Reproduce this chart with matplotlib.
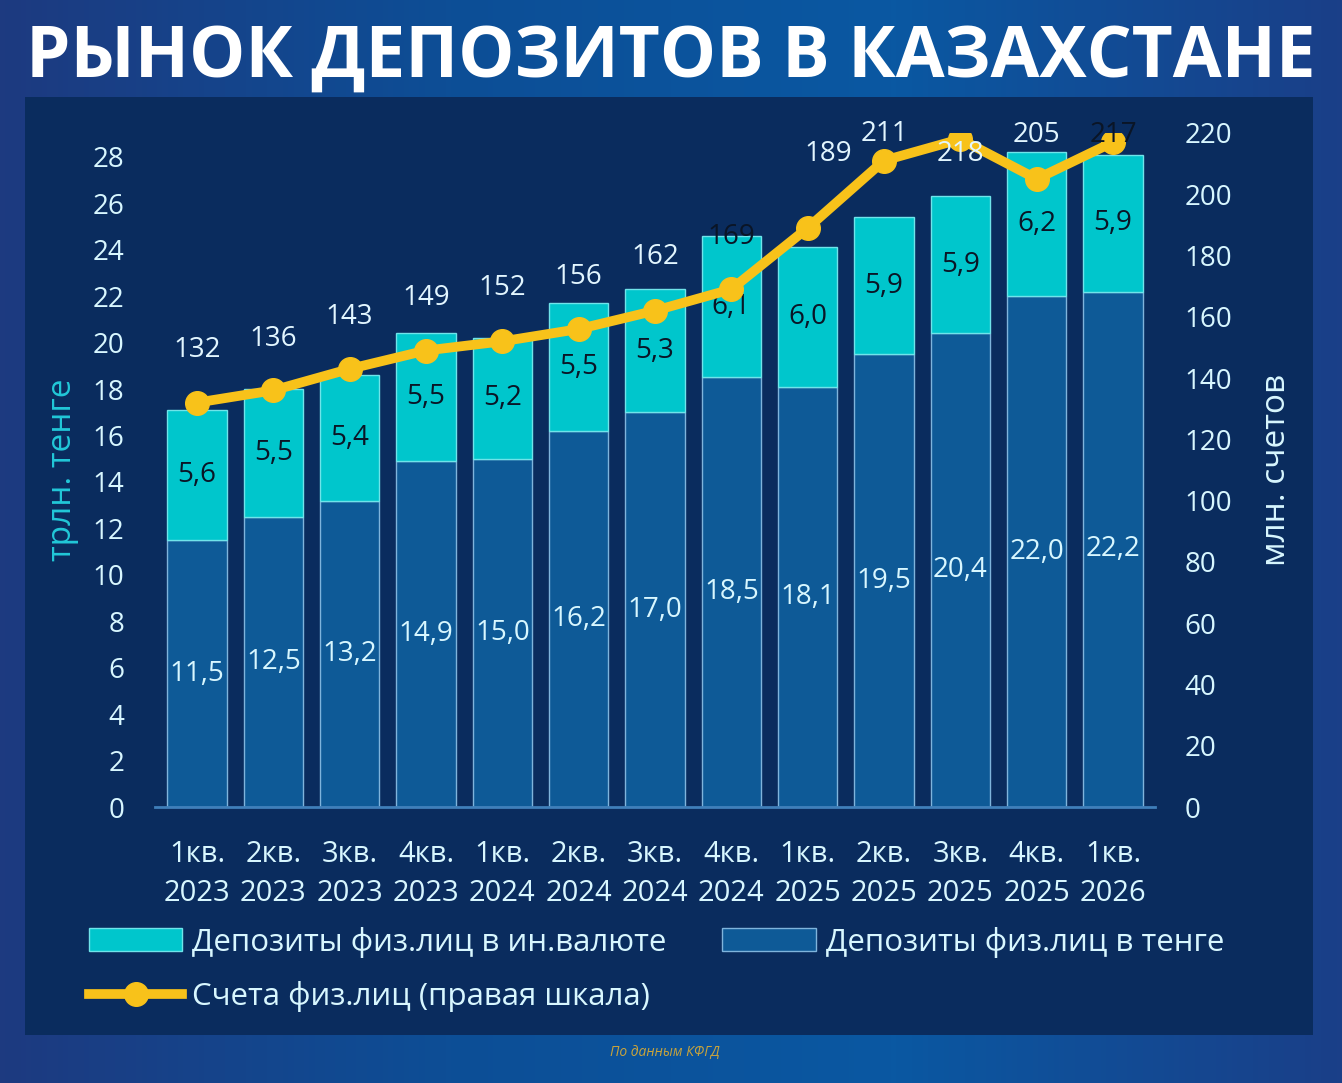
import numpy as np
import matplotlib.pyplot as plt
from matplotlib.patches import Rectangle
from matplotlib.colors import LinearSegmentedColormap

# Данные
kvartaly = ["1кв.\n2023", "2кв.\n2023", "3кв.\n2023", "4кв.\n2023",
            "1кв.\n2024", "2кв.\n2024", "3кв.\n2024", "4кв.\n2024",
            "1кв.\n2025", "2кв.\n2025", "3кв.\n2025", "4кв.\n2025",
            "1кв.\n2026"]
dep_tenge = [11.5, 12.5, 13.2, 14.9, 15.0, 16.2, 17.0, 18.5, 18.1, 19.5, 20.4, 22.0, 22.2]
dep_valuta = [5.6, 5.5, 5.4, 5.5, 5.2, 5.5, 5.3, 6.1, 6.0, 5.9, 5.9, 6.2, 5.9]
scheta = [132, 136, 143, 149, 152, 156, 162, 169, 189, 211, 218, 205, 217]

# Смещения подписей линии (пиксели) и цвет подписей
sdvig = [(0, 53), (0, 51), (0, 52), (0, 53), (0, 53), (0, 52), (0, 54), (0, 52),
         (21, 74), (0, 27), (0, -15), (0, 44), (0, 7)]
cvet_podp = ['#e2f6ff'] * 7 + ['#0a1526', '#e2f6ff', '#e2f6ff', '#e2f6ff', '#e2f6ff', '#0a1526']

C_TENGE = '#0e5a97'
C_VAL = '#00c6cc'
C_LINE = '#f8c21a'
C_TXT = '#d8f7ff'

plt.rcParams['font.family'] = ['Open Sans', 'DejaVu Sans']

fig = plt.figure(figsize=(13.42, 10.83), dpi=100)

# Фон
bg = fig.add_axes([0, 0, 1, 1], zorder=-10)
bg.axis('off')
grad = np.linspace(0, 1, 256).reshape(1, -1)
cmap_bg = LinearSegmentedColormap.from_list('bg', ['#1d3a80', '#0d4e96', '#0a58a2', '#1a3f88'])
bg.imshow(grad, aspect='auto', cmap=cmap_bg, extent=[0, 1, 0, 1])
bg.set_xlim(0, 1)
bg.set_ylim(0, 1)
bg.add_patch(Rectangle((25 / 1342, 1 - 1035 / 1083), (1313 - 25) / 1342, (1035 - 97) / 1083,
                       facecolor='#0a2c5e', edgecolor='none'))

fig.text(0.5, 1 - 58 / 1083, 'РЫНОК ДЕПОЗИТОВ В КАЗАХСТАНЕ', color='white',
         fontsize=51, fontweight='bold', ha='center', va='center')
fig.text(665 / 1342, 1 - 1053 / 1083, 'По данным КФГД', color='#c9a43c',
         fontsize=10, style='italic', ha='center', va='center')

ax = fig.add_axes([155 / 1342, 1 - 807 / 1083, 1000 / 1342, 674 / 1083])
ax.patch.set_alpha(0)
x = np.arange(len(kvartaly))
w = 0.78

b1 = ax.bar(x, dep_tenge, w, color=C_TENGE, edgecolor='#7fb4dc', linewidth=1,
            label='Депозиты физ.лиц в тенге')
b2 = ax.bar(x, dep_valuta, w, bottom=dep_tenge, color=C_VAL, edgecolor='#6fe4ea', linewidth=1,
            label='Депозиты физ.лиц в ин.валюте')

for i in range(len(x)):
    ax.text(x[i], dep_tenge[i] / 2, f'{dep_tenge[i]:.1f}'.replace('.', ','),
            ha='center', va='center', color=C_TXT, fontsize=20)
    ax.text(x[i], dep_tenge[i] + dep_valuta[i] / 2, f'{dep_valuta[i]:.1f}'.replace('.', ','),
            ha='center', va='center', color='#0a1526', fontsize=20)

ax.set_xlim(-0.55, len(x) - 0.45)
ax.set_ylim(0, 29.03)
ax.set_yticks(np.arange(0, 29, 2))
ax.set_xticks(x)
ax.set_xticklabels(kvartaly, linespacing=1.45)
ax.tick_params(axis='x', length=0, pad=24, labelsize=21, colors=C_TXT)
ax.tick_params(axis='y', length=0, pad=22, labelsize=20, colors=C_TXT)
for s in ['top', 'right', 'left']:
    ax.spines[s].set_visible(False)
ax.spines['bottom'].set_color('#3f7fba')
ax.spines['bottom'].set_linewidth(2)
ax.set_ylabel('трлн. тенге', color='#22c8d8', fontsize=24, labelpad=10)

ax2 = ax.twinx()
ax2.set_ylim(0, 220)
ax2.set_yticks(np.arange(0, 221, 20))
ax2.tick_params(axis='y', length=0, pad=21, labelsize=20, colors=C_TXT)
for s in ax2.spines.values():
    s.set_visible(False)
ln, = ax2.plot(x, scheta, color=C_LINE, linewidth=7, marker='o', markersize=17,
               label='Счета физ.лиц (правая шкала)')
for i in range(len(x)):
    ax2.annotate(str(scheta[i]), (x[i], scheta[i]), xytext=sdvig[i], textcoords='offset pixels',
                 ha='center', va='center', color=cvet_podp[i], fontsize=20, zorder=5)
ax2.set_ylabel('млн. счетов', color=C_TXT, fontsize=24, labelpad=20)

fig.legend(handles=[b2, ln, b1], ncol=2, loc='upper left',
           bbox_to_anchor=(73 / 1342, 1 - 911 / 1083), frameon=False,
           fontsize=22.5, labelcolor=C_TXT, handlelength=3.0, handleheight=0.75,
           handletextpad=0.3, columnspacing=1.8, labelspacing=0.75, borderpad=0)

fig.savefig('out.png', dpi=100)
